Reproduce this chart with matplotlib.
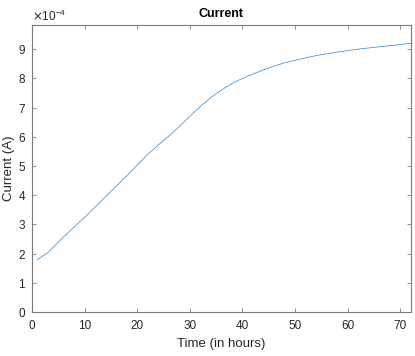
import matplotlib.pyplot as plt
from matplotlib.ticker import ScalarFormatter

# time in hours and measured current (A)
hours = [1, 3, 6, 10, 14, 18, 22, 24, 26, 28, 30, 32, 34, 36, 38, 40, 42, 44,
         46, 48, 50, 54, 58, 62, 66, 70, 72]
current = [1.79e-4, 2.03e-4, 2.57e-4, 3.24e-4, 3.95e-4, 4.66e-4, 5.40e-4,
           5.72e-4, 6.02e-4, 6.35e-4, 6.70e-4, 7.04e-4, 7.34e-4, 7.60e-4,
           7.82e-4, 8.0e-4, 8.15e-4, 8.29e-4, 8.42e-4, 8.53e-4, 8.62e-4,
           8.78e-4, 8.9e-4, 9.0e-4, 9.08e-4, 9.16e-4, 9.2e-4]
xticks = [0, 10, 20, 30, 40, 50, 60, 70]
yticks = [i * 1e-4 for i in range(10)]

plt.rcParams['font.family'] = ['Liberation Sans', 'DejaVu Sans']
axcol = '#7a7a7a'
txtcol = '#262626'

fig = plt.figure(figsize=(4.15, 3.56), dpi=100)
ax = fig.add_axes([0.077, 0.1236, 0.913, 0.8064])
ax.plot(hours, current, color='#2f86cc', lw=0.5)

ax.set_xlim(0, 72)
ax.set_ylim(0, 9.83e-4)
ax.set_xticks(xticks)
ax.set_yticks(yticks)

fmt = ScalarFormatter(useMathText=True)
fmt.set_powerlimits((0, 0))
ax.yaxis.set_major_formatter(fmt)
ax.yaxis.get_offset_text().set_fontsize(8.5)
ax.yaxis.get_offset_text().set_color(txtcol)

ax.tick_params(direction='in', length=3, width=0.6, colors=axcol,
               labelcolor=txtcol, labelsize=8.5, top=True, right=True)
ax.tick_params(axis='x', pad=6)
ax.tick_params(axis='y', pad=4)
for s in ax.spines.values():
    s.set_color(axcol)
    s.set_linewidth(0.8)

ax.set_title('Current', fontsize=9, fontweight='bold', color='black', pad=6)
ax.set_xlabel('Time (in hours)', fontsize=9.5, color=txtcol, labelpad=4)
ax.set_ylabel('Current (A)', fontsize=9.5, color=txtcol, labelpad=2)

fig.savefig('out.png', dpi=100)
